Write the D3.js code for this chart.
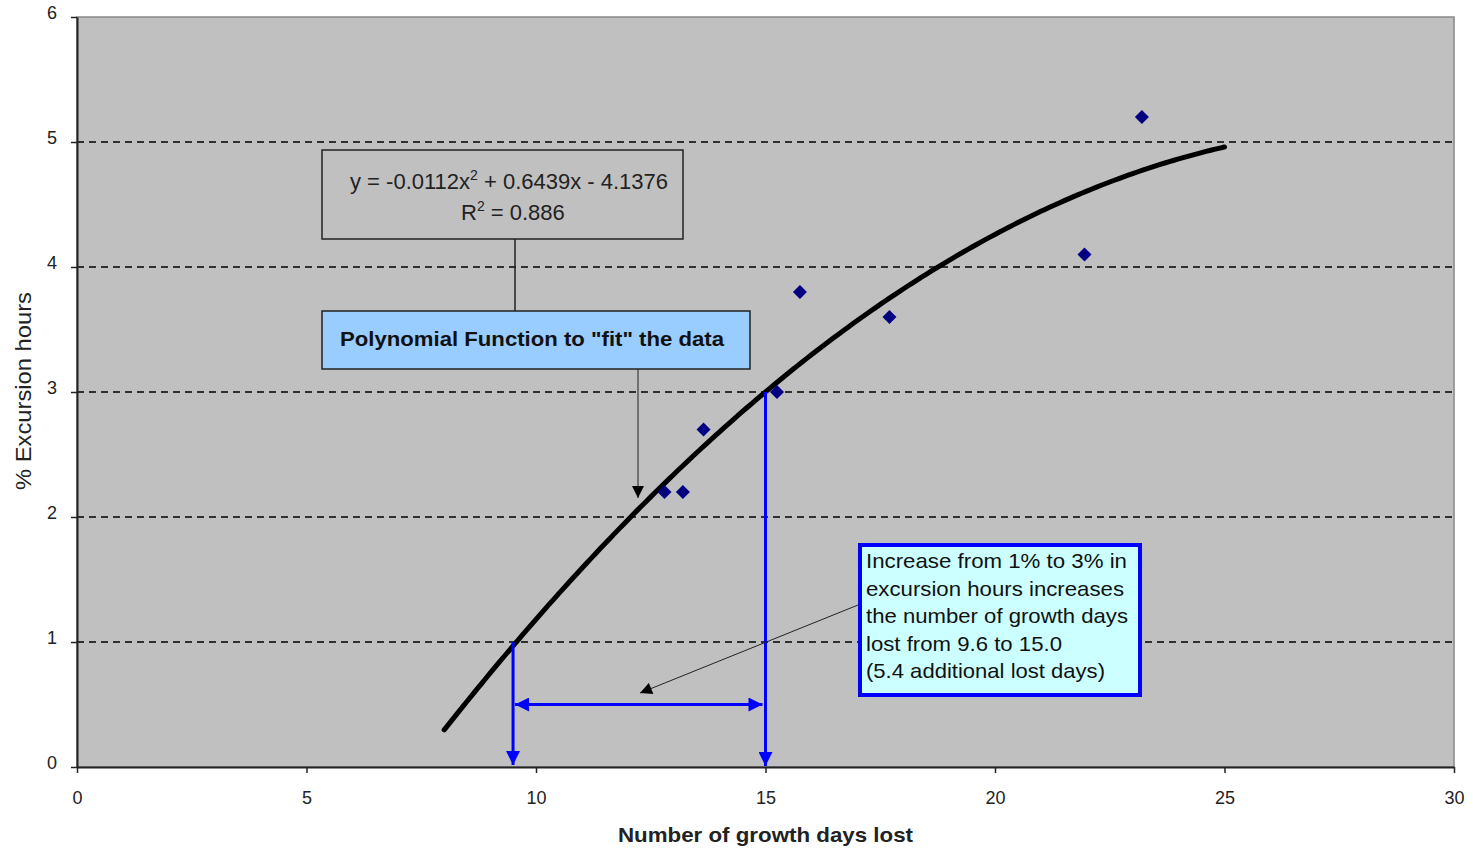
<!DOCTYPE html>
<html><head><meta charset="utf-8">
<script src="https://cdn.jsdelivr.net/npm/d3@7"></script>
<style>body{margin:0;background:#fff}svg{display:block;font-family:"Liberation Sans",Arial,sans-serif}</style>
</head><body><svg id="c" width="1473" height="852"></svg>
<script>
const daysLost = [12.8, 13.2, 13.65, 15.25, 15.75, 17.7, 21.95, 23.2];
const excursion = [2.2, 2.2, 2.7, 3.0, 3.8, 3.6, 4.1, 5.2];
const fitCoef = [-0.0112, 0.6439, -4.1376];
const fitRange = [8, 25];
const xTicks = [0, 5, 10, 15, 20, 25, 30];
const yTicks = [0, 1, 2, 3, 4, 5, 6];
const calloutLines = ["Increase from 1% to 3% in","excursion hours increases","the number of growth days","lost from 9.6 to 15.0","(5.4 additional lost days)"];
const calloutWidths = [261, 258, 262, 196, 239];
const markLow = [9.5, 1], markHigh = [15, 3], spanY = 0.5;

const svg = d3.select("#c");
const L=77, R=1454, T=17, B=767;
const x = d3.scaleLinear().domain([0,30]).range([L,R]);
const y = d3.scaleLinear().domain([0,6]).range([B,T]);

const defs = svg.append("defs");
function marker(id,color,w,h){
  defs.append("marker").attr("id",id).attr("viewBox","0 0 10 10").attr("refX",10).attr("refY",5)
   .attr("markerWidth",w).attr("markerHeight",h).attr("markerUnits","userSpaceOnUse").attr("orient","auto-start-reverse")
   .append("path").attr("d","M0,0L10,5L0,10Z").attr("fill",color);
}
marker("ab","#0000ff",16,14);
marker("ak","#000",14,12);

svg.append("rect").attr("x",L).attr("y",T).attr("width",R-L).attr("height",B-T).attr("fill","#c0c0c0").attr("stroke","#888").attr("stroke-width",1.5);

// grid
svg.append("g").selectAll("line").data(yTicks.filter(d=>d>0&&d<6)).join("line")
 .attr("x1",L).attr("x2",R).attr("y1",d=>y(d)).attr("y2",d=>y(d))
 .attr("stroke","#000").attr("stroke-width",1.3).attr("stroke-dasharray","7,5");

// axes
const xa = svg.append("g").attr("transform",`translate(0,${B})`).call(d3.axisBottom(x).tickValues(xTicks).tickFormat(d3.format("d")).tickSize(6).tickPadding(18).tickSizeOuter(0));
const ya = svg.append("g").attr("transform",`translate(${L},0)`).call(d3.axisLeft(y).tickValues(yTicks).tickFormat(d3.format("d")).tickSize(6).tickPadding(14).tickSizeOuter(0));
[xa,ya].forEach(a=>{a.select(".domain").attr("stroke","#222").attr("stroke-width",2);
 a.selectAll(".tick line").attr("stroke","#222").attr("stroke-width",1.5);
 a.selectAll("text").attr("font-size",18).attr("fill","#222").attr("font-family","Liberation Sans, Arial, sans-serif");});
ya.selectAll(".tick text").attr("dy","0.1em");

svg.append("text").attr("x",618).attr("y",842).attr("textLength",295).attr("lengthAdjust","spacingAndGlyphs").attr("font-size",21).attr("font-weight","bold").attr("fill","#222").text("Number of growth days lost");
svg.append("text").attr("transform","translate(31,490) rotate(-90)").attr("textLength",198).attr("lengthAdjust","spacingAndGlyphs").attr("font-size",22).attr("fill","#222").text("% Excursion hours");

// fit curve
const fx = d3.range(fitRange[0], fitRange[1]+0.001, 0.1);
svg.append("path").datum(fx).attr("fill","none").attr("stroke","#000").attr("stroke-width",5).attr("stroke-linecap","round")
 .attr("d",d3.line().x(d=>x(d)).y(d=>y(fitCoef[0]*d*d+fitCoef[1]*d+fitCoef[2])));

// data points (square diamonds)
svg.append("g").selectAll("path").data(daysLost.map((d,i)=>[d,excursion[i]])).join("path")
 .attr("transform",d=>`translate(${x(d[0])},${y(d[1])}) rotate(45)`)
 .attr("d",d3.symbol(d3.symbolSquare,98)).attr("fill","#000080");

// blue construction lines
const bl = svg.append("g").attr("stroke","#0000ff").attr("stroke-width",3).attr("fill","none");
bl.append("line").attr("x1",x(markLow[0])).attr("x2",x(markLow[0])).attr("y1",y(markLow[1])).attr("y2",y(0)-2).attr("marker-end","url(#ab)");
bl.append("line").attr("x1",x(markHigh[0])).attr("x2",x(markHigh[0])).attr("y1",y(markHigh[1])).attr("y2",y(0)-1).attr("marker-end","url(#ab)");
bl.append("line").attr("x1",x(markLow[0])+2).attr("x2",x(markHigh[0])-3).attr("y1",y(spanY)).attr("y2",y(spanY)).attr("marker-start","url(#ab)").attr("marker-end","url(#ab)");

// equation box
svg.append("rect").attr("x",322).attr("y",150).attr("width",361).attr("height",89).attr("fill","#c0c0c0").attr("stroke","#222").attr("stroke-width",1.5);
const eq = svg.append("text").attr("x",350).attr("y",189).attr("font-size",22).attr("fill","#222");
eq.append("tspan").text("y = -0.0112x");
eq.append("tspan").attr("dy",-9).attr("font-size",14).text("2");
eq.append("tspan").attr("dy",9).text(" + 0.6439x - 4.1376");
const r2 = svg.append("text").attr("x",461).attr("y",220).attr("font-size",22).attr("fill","#222");
r2.append("tspan").text("R");
r2.append("tspan").attr("dy",-9).attr("font-size",14).text("2");
r2.append("tspan").attr("dy",9).text(" = 0.886");
svg.append("line").attr("x1",515).attr("x2",515).attr("y1",239).attr("y2",311).attr("stroke","#222").attr("stroke-width",1.5);

// label box
svg.append("rect").attr("x",322).attr("y",311).attr("width",428).attr("height",58).attr("fill","#99ccff").attr("stroke","#222").attr("stroke-width",1.5);
svg.append("text").attr("x",340).attr("y",346).attr("textLength",384).attr("lengthAdjust","spacingAndGlyphs").attr("font-size",21).attr("font-weight","bold").attr("fill","#111").text('Polynomial Function to "fit" the data');
svg.append("line").attr("x1",638).attr("x2",638).attr("y1",369).attr("y2",498).attr("stroke","#222").attr("stroke-width",1).attr("marker-end","url(#ak)");

// callout
svg.append("line").attr("x1",858).attr("y1",605).attr("x2",640).attr("y2",693).attr("stroke","#222").attr("stroke-width",1).attr("marker-end","url(#ak)");
svg.append("rect").attr("x",860).attr("y",545).attr("width",280).attr("height",150).attr("fill","#ccffff").attr("stroke","#0000ff").attr("stroke-width",4);
svg.append("g").selectAll("text").data(calloutLines).join("text")
 .attr("x",866).attr("y",(d,i)=>568+i*27.5).attr("textLength",(d,i)=>calloutWidths[i]).attr("lengthAdjust","spacingAndGlyphs")
 .attr("font-size",21).attr("fill","#111").text(d=>d);
</script></body></html>
